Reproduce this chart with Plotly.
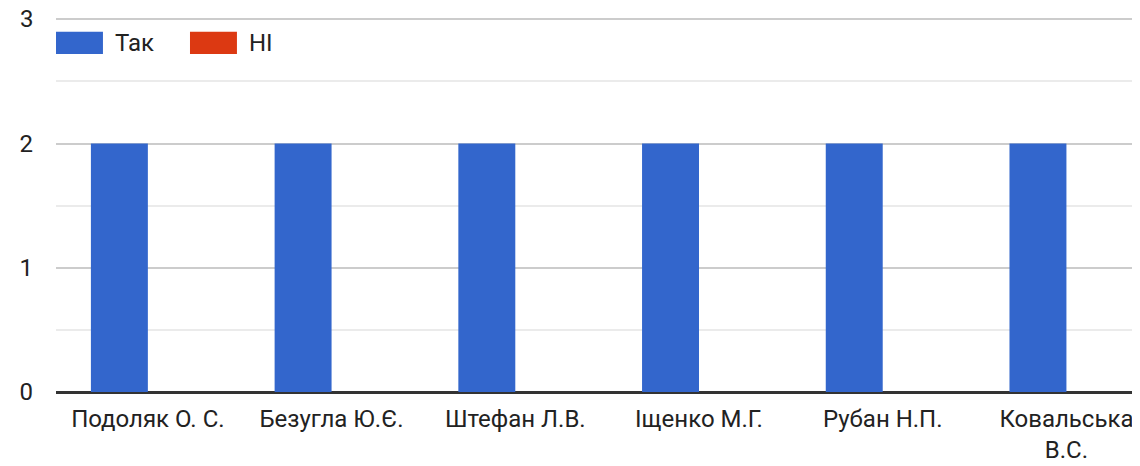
import plotly.graph_objects as go

categories = ["Подоляк О. С.", "Безугла Ю.Є.", "Штефан Л.В.", "Іщенко М.Г.", "Рубан Н.П.", "Ковальська В.С."]
tick_labels = ["Подоляк О. С.", "Безугла Ю.Є.", "Штефан Л.В.", "Іщенко М.Г.", "Рубан Н.П.", "Ковальська<br>В.С."]
series_names = ["Так", "НІ"]
yes_values = [2, 2, 2, 2, 2, 2]
no_values = [0, 0, 0, 0, 0, 0]
y_ticks = [0, 1, 2, 3]
colors = ["#3366cc", "#dc3912"]

FONT = "Roboto, Arial, sans-serif"
FS = 24

fig = go.Figure()
for name, vals, col in zip(series_names, [yes_values, no_values], colors):
    fig.add_trace(go.Bar(x=categories, y=vals, name=name, marker_color=col,
                         marker_line_width=0, showlegend=False))

# custom legend (wide swatches like the original)
legend_x = [0.0, 0.1227]
for i, (name, col) in enumerate(zip(series_names, colors)):
    x0 = legend_x[i]
    fig.add_shape(type="rect", xref="paper", yref="paper",
                  x0=x0, x1=x0 + 0.043, y0=0.904, y1=0.963,
                  fillcolor=col, line_width=0)
    fig.add_annotation(xref="paper", yref="paper", x=x0 + 0.052, y=0.934,
                       text=name, showarrow=False, xanchor="left", yanchor="middle",
                       font=dict(family=FONT, size=FS, color="#222222"))

# top tick label (plotly hides it because it touches the page edge)
fig.add_annotation(xref="paper", yref="y", x=0, y=y_ticks[-1], text=str(y_ticks[-1]),
                   showarrow=False, xanchor="right", yanchor="middle", xshift=-20,
                   font=dict(family=FONT, size=FS, color="#222222"))

fig.update_layout(
    width=1140, height=466,
    margin=dict(l=48, r=0, t=10, b=82),
    paper_bgcolor="white", plot_bgcolor="white",
    barmode="group", bargap=0.38, bargroupgap=0,
    font=dict(family=FONT, size=FS, color="#222222"),
    xaxis=dict(tickmode="array", tickvals=categories, ticktext=tick_labels,
               range=[-0.5, 5.444], automargin=False,
               showgrid=False, showline=False, ticks="", ticklabelstandoff=10,
               tickfont=dict(size=FS, color="#222222")),
    yaxis=dict(range=[0, 3.01], tickvals=y_ticks[:-1] + [y_ticks[-1]], showgrid=True, automargin=False,
               gridcolor="#cccccc", gridwidth=2,
               minor=dict(tickvals=[0.5, 1.5, 2.5], showgrid=True, gridcolor="#ebebeb", gridwidth=2),
               zeroline=True, zerolinecolor="#333333", zerolinewidth=3,
               ticks="", ticklabelstandoff=22,
               tickfont=dict(size=FS, color="#222222")),
)

fig.write_html("out.html")
